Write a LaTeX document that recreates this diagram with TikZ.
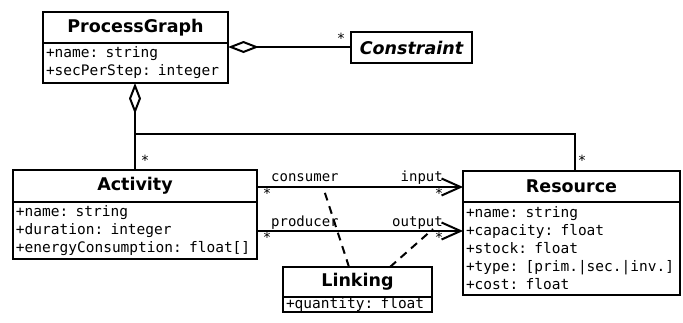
\documentclass[tikz,border=0pt]{standalone}
\usepackage{fontspec}
\setmainfont{DejaVu Sans}
\setmonofont{DejaVu Sans Mono}
\usetikzlibrary{arrows.meta,positioning}
\begin{document}
\begin{tikzpicture}[x=1pt,y=-1pt,
  ttl/.style={draw,line width=2pt,anchor=north west,inner sep=0pt,outer sep=0pt,font=\bfseries\fontsize{17.5}{20}\selectfont},
  attrs/.style={draw,line width=2pt,anchor=north,outer sep=0pt,inner xsep=3pt,inner ysep=0pt,align=left,font=\ttfamily\fontsize{14.5}{18}\selectfont},
  lbl/.style={font=\ttfamily\fontsize{14}{16}\selectfont,inner sep=0pt},
  conn/.style={line width=2pt},
  agg/.style={conn,{Diamond[open,length=31pt,width=12pt,line width=2pt]}-},
  nav/.style={conn,-{Straight Barb[length=19pt,width=17pt,line width=2pt]}},
  lnk/.style={line width=2pt,dash pattern=on 8pt off 6pt}]
\useasboundingbox (0,0) rectangle (683,322);

% ProcessGraph
\node[ttl,minimum width=185pt,minimum height=31pt] (pg) at (43,12) {ProcessGraph};
\node[attrs,text width=179pt,minimum height=40pt] (pga) at (pg.south) {+name: string\\+secPerStep: integer};

% Constraint
\node[ttl,minimum width=121pt,minimum height=31pt,font=\bfseries\itshape\fontsize{17.5}{20}\selectfont] (con) at (351,32) {Constraint};

% Activity
\node[ttl,minimum width=244pt,minimum height=32pt] (act) at (13,170) {Activity};
\node[attrs,text width=238pt,minimum height=57pt] (acta) at (act.south) {+name: string\\+duration: integer\\+energyConsumption: float[]};

% Resource
\node[ttl,minimum width=217pt,minimum height=31pt] (res) at (463,171) {Resource};
\node[attrs,text width=211pt,minimum height=93pt] (resa) at (res.south) {+name: string\\+capacity: float\\+stock: float\\+type: [prim.|sec.|inv.]\\+cost: float};

% Linking
\node[ttl,minimum width=149pt,minimum height=30pt] (lk) at (283,267) {Linking};
\node[attrs,text width=143pt,minimum height=15pt] (lka) at (lk.south) {+quantity: float};

% aggregation to Constraint
\draw[agg] (pga.east |- 0,47) -- (con.west |- 0,47);
\node[lbl] (m1) at (341,38) {*};

% aggregation down
\coordinate (j) at (135,134);
\draw[agg] (pga.south -| j) -- (j) -- (act.north -| j);
\draw[conn] (j) -- (j -| 575,0) -- (res.north -| 575,0);
\node[lbl] (m2) at (145,160) {*};
\node[lbl] (m3) at (582,160) {*};

% consumer / input
\draw[nav] (act.east |- 0,187) -- (res.west |- 0,187);
\node[lbl,anchor=base west] (cons) at (271,181) {consumer};
\node[lbl,anchor=base east] (inp) at (443,181) {input};
\node[lbl] (m4) at (267,193) {*};
\node[lbl] (m5) at (439,193) {*};

% producer / output
\draw[nav] (act.east |- 0,231) -- (res.west |- 0,231);
\node[lbl,anchor=base west] (prod) at (271,226) {producer};
\node[lbl,anchor=base east] (outp) at (443,226) {output};
\node[lbl] (m6) at (267,237) {*};
\node[lbl] (m7) at (439,237) {*};

% linking dashed lines
\coordinate (c1) at (323,187);
\coordinate (c2) at (433,229);
\draw[lnk] (lk.north -| 349,0) -- (c1);
\draw[lnk] (lk.north -| 390,0) -- (c2);
\end{tikzpicture}
\end{document}
